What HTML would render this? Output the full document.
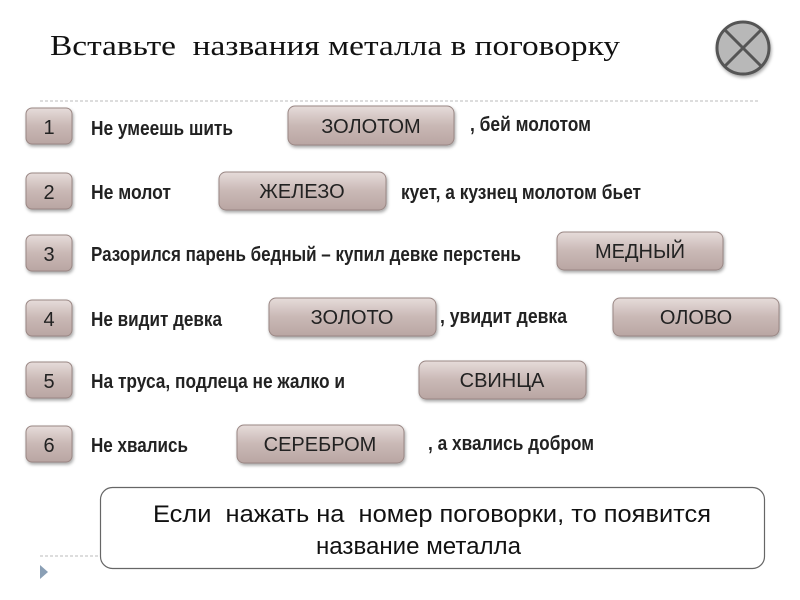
<!DOCTYPE html>
<html><head><meta charset="utf-8"><style>html,body{margin:0;padding:0;background:#fff;}svg{display:block}</style></head>
<body>
<svg width="800" height="600" viewBox="0 0 800 600" xmlns="http://www.w3.org/2000/svg">
<defs>
<linearGradient id="g" x1="0" y1="0" x2="0" y2="1">
<stop offset="0" stop-color="#e6dcda"/><stop offset="0.5" stop-color="#c9b8b5"/><stop offset="1" stop-color="#b9a5a2"/>
</linearGradient>
<filter id="s" x="-10%" y="-20%" width="130%" height="150%"><feDropShadow dx="1" dy="2" stdDeviation="1.5" flood-color="#000" flood-opacity="0.35"/></filter>
</defs>
<text x="50" y="55" font-family="Liberation Serif, serif" font-size="29" fill="#111" textLength="570" lengthAdjust="spacingAndGlyphs" xml:space="preserve">Вставьте  названия металла в поговорку</text>
<circle cx="743" cy="48" r="26" fill="#b8b8b8" stroke="#555" stroke-width="3" filter="url(#s)"/>
<line x1="725" y1="30" x2="761" y2="66" stroke="#555" stroke-width="3"/>
<line x1="761" y1="30" x2="725" y2="66" stroke="#555" stroke-width="3"/>
<line x1="40" y1="101" x2="760" y2="101" stroke="#bbb" stroke-dasharray="3,2"/>
<line x1="40" y1="556" x2="760" y2="556" stroke="#bbb" stroke-dasharray="3,2"/>
<polygon points="40,565 48,572 40,579" fill="#8a9fb5"/>
<g font-family="Liberation Sans, sans-serif" font-size="20" fill="#222" text-anchor="middle">
<g filter="url(#s)" stroke="#9a8784" stroke-width="1" fill="url(#g)">
<rect x="26" y="108" width="46" height="36" rx="6"/>
<rect x="26" y="173" width="46" height="36" rx="6"/>
<rect x="26" y="235" width="46" height="36" rx="6"/>
<rect x="26" y="300" width="46" height="36" rx="6"/>
<rect x="26" y="362" width="46" height="36" rx="6"/>
<rect x="26" y="426" width="46" height="36" rx="6"/>
<rect x="288" y="106" width="166" height="39" rx="7"/>
<rect x="219" y="172" width="167" height="38" rx="7"/>
<rect x="557" y="232" width="166" height="38" rx="7"/>
<rect x="269" y="298" width="167" height="38" rx="7"/>
<rect x="613" y="298" width="166" height="38" rx="7"/>
<rect x="419" y="361" width="167" height="38" rx="7"/>
<rect x="237" y="425" width="167" height="38" rx="7"/>
</g>
<text x="49" y="134">1</text><text x="49" y="199">2</text><text x="49" y="261">3</text>
<text x="49" y="326">4</text><text x="49" y="388">5</text><text x="49" y="452">6</text>
<text x="371" y="133">ЗОЛОТОМ</text><text x="302" y="198">ЖЕЛЕЗО</text><text x="640" y="258">МЕДНЫЙ</text>
<text x="352" y="324">ЗОЛОТО</text><text x="696" y="324">ОЛОВО</text><text x="502" y="387">СВИНЦА</text>
<text x="320" y="451">СЕРЕБРОМ</text>
</g>
<g font-family="Liberation Sans, sans-serif" font-size="20" font-weight="bold" fill="#222">
<text x="91" y="135" textLength="142" lengthAdjust="spacingAndGlyphs">Не умеешь шить</text>
<text x="470" y="131" textLength="121" lengthAdjust="spacingAndGlyphs">, бей молотом</text>
<text x="91" y="199" textLength="80" lengthAdjust="spacingAndGlyphs">Не молот</text>
<text x="401" y="199" textLength="240" lengthAdjust="spacingAndGlyphs">кует, а кузнец молотом бьет</text>
<text x="91" y="261" textLength="430" lengthAdjust="spacingAndGlyphs">Разорился парень бедный – купил девке перстень</text>
<text x="91" y="326" textLength="131" lengthAdjust="spacingAndGlyphs">Не видит девка</text>
<text x="440" y="323" textLength="127" lengthAdjust="spacingAndGlyphs">, увидит девка</text>
<text x="91" y="388" textLength="254" lengthAdjust="spacingAndGlyphs">На труса, подлеца не жалко и</text>
<text x="91" y="452" textLength="97" lengthAdjust="spacingAndGlyphs">Не хвались</text>
<text x="428" y="450" textLength="166" lengthAdjust="spacingAndGlyphs">, а хвались добром</text>
</g>
<rect x="100.5" y="487.5" width="664" height="81" rx="12" fill="#fff" stroke="#666" stroke-width="1.2"/>
<g font-family="Liberation Sans, sans-serif" font-size="24" fill="#111">
<text x="153" y="522" textLength="558" lengthAdjust="spacingAndGlyphs" xml:space="preserve">Если  нажать на  номер поговорки, то появится</text>
<text x="316" y="554" textLength="205" lengthAdjust="spacingAndGlyphs">название металла</text>
</g>
</svg>
</body></html>
